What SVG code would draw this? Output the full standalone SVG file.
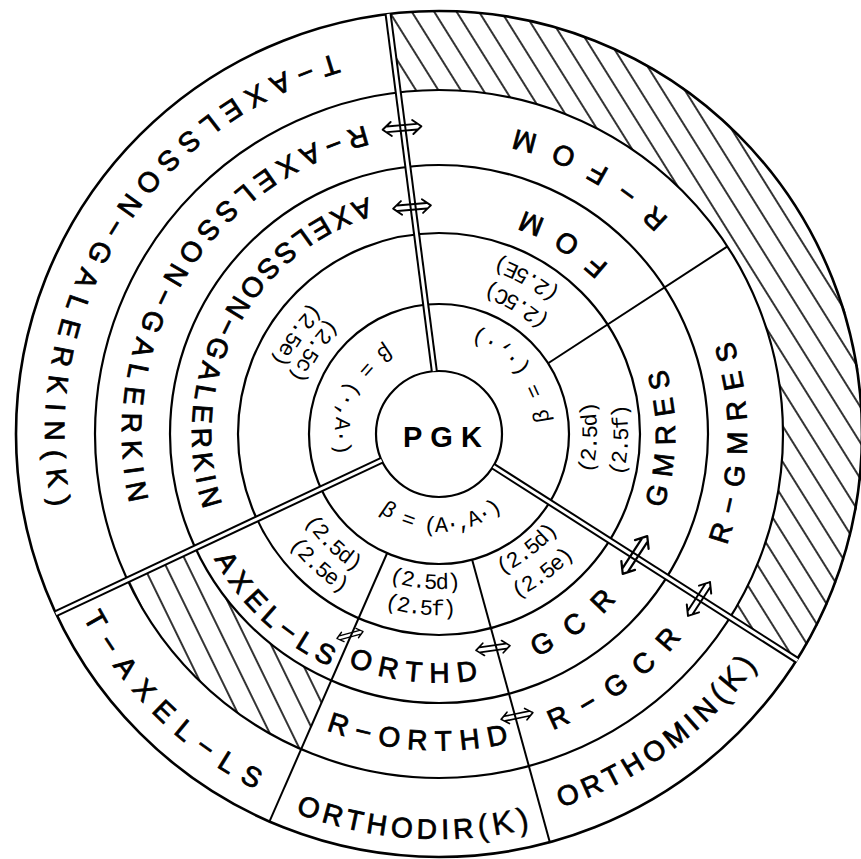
<svg xmlns="http://www.w3.org/2000/svg" width="861" height="859" viewBox="0 0 861 859">
<style>
.ring{fill:none;stroke:#000;stroke-width:2.2}
.outer{fill:none;stroke:#000;stroke-width:2.6}
.sp{fill:none;stroke:#000;stroke-width:2}
.dbl{fill:none;stroke:#000;stroke-width:7}
.dblw{fill:none;stroke:#fff;stroke-width:3}
.lbl{font-family:"Liberation Sans",Arial,sans-serif;font-size:28px;fill:#000;stroke:#000;stroke-width:0.8}
.eq{font-family:"Liberation Mono","Courier New",monospace;font-size:22px;fill:#000}
.big{font-size:32px;stroke-width:0.4}
.pgk{font-family:"Liberation Sans",Arial,sans-serif;font-size:29px;font-weight:bold;fill:#000}
</style>
<defs>
<pattern id="hatchA" patternUnits="userSpaceOnUse" width="19" height="19" patternTransform="rotate(-32)">
<line x1="1" y1="-1" x2="1" y2="20" stroke="#000" stroke-width="1.6"/>
</pattern>
<pattern id="hatchB" patternUnits="userSpaceOnUse" width="20" height="20" patternTransform="rotate(-26)">
<line x1="1" y1="-1" x2="1" y2="21" stroke="#000" stroke-width="1.6"/>
</pattern>
<g id="dar"><path d="M-18,0 L-10,-6.5 M-18,0 L-10,6.5 M18,0 L10,-6.5 M18,0 L10,6.5 M-14,-2.6 H14 M-14,2.6 H14" fill="none" stroke="#000" stroke-width="1.8" stroke-linecap="round"/></g>
<path id="t1" d="M554.2,215.5 A247,247 0 0 0 323.8,652.5"/>
<path id="t2" d="M606.8,165 A317,317 0 0 0 271.2,703"/>
<path id="t3" d="M648.1,100 A394,394 0 0 0 229.9,768"/>
<path id="t4" d="M251.3,258.4 A257,257 0 0 0 626.7,609.6"/>
<path id="t5" d="M156.4,150.9 A400,400 0 0 0 721.6,717.1"/>
<path id="t6" d="M188.9,403.3 A252,252 0 0 0 689.1,464.7"/>
<path id="t7" d="M117.9,404.6 A322.5,322.5 0 0 0 760.1,463.4"/>
<path id="t8" d="M34.9,406.5 A405,405 0 0 0 843.1,461.5"/>
<path id="t9" d="M235,573.2 A247,247 0 0 0 643,294.8"/>
<path id="t10" d="M175.1,616.7 A321,321 0 0 0 702.9,251.3"/>
<path id="t11" d="M112.6,663.4 A399,399 0 0 0 765.4,204.6"/>
<path id="t12" d="M434.3,670 A236,236 0 0 0 443.7,198"/>
<path id="t13" d="M424,746.6 A313,313 0 0 0 454,121.4"/>
<path id="t14" d="M640.4,569.9 A243,243 0 0 0 237.6,298.1"/>
<path id="t15" d="M711,598.7 A318,318 0 0 0 167,269.3"/>
<path id="p1" d="M574.2,515.8 A158,158 0 0 0 303.8,352.2"/>
<path id="p2" d="M602.6,526.6 A188,188 0 0 0 275.4,341.4"/>
<path id="p3" d="M526.7,302.5 A158,158 0 0 0 351.3,565.5"/>
<path id="p4" d="M544.8,282.3 A185,185 0 0 0 333.2,585.7"/>
<path id="p5" d="M324.3,322.4 A160,160 0 0 0 553.7,545.6"/>
<path id="p6" d="M300.4,307 A188,188 0 0 0 577.6,561"/>
<path id="p7" d="M284.7,418.9 A155,155 0 0 0 593.3,449.1"/>
<path id="p8" d="M256.1,414.1 A184,184 0 0 0 621.9,453.9"/>
<path id="p9" d="M317.1,526.5 A153,153 0 0 0 560.9,341.5"/>
<path id="p10" d="M290.3,544 A185,185 0 0 0 587.7,324"/>
<path id="p11" d="M434.9,592 A158,158 0 0 0 443.1,276"/>
<path id="p12" d="M432.4,622.9 A189,189 0 0 0 445.6,245.1"/>
<path id="b1" d="M341,436 A98,98 0 0 0 537,432"/>
<path id="b2" d="M508.9,520.3 A111,111 0 0 0 369.1,347.7"/>
<path id="b3" d="M481,338.8 A104,104 0 0 0 397,529.2"/>
</defs>
<rect width="861" height="859" fill="#fff"/>

<g id="hatching">
<path d="M398.3,92.5 L388.1,14 A423,423 0 0 1 797.5,660.5 L730.1,617.4 A344,344 0 0 0 398.3,92.5 Z" fill="url(#hatchA)"/>
<path d="M195.2,548 L127.4,580 A344,344 0 0 0 301,749.4 L331.2,680.7 A269,269 0 0 1 195.2,548 Z" fill="url(#hatchB)"/>
</g>

<g id="rings">
<circle class="ring" cx="439" cy="434" r="63"/>
<circle class="ring" cx="439" cy="434" r="130"/>
<circle class="ring" cx="439" cy="434" r="201"/>
<circle class="ring" cx="439" cy="434" r="269"/>
<circle class="ring" cx="439" cy="434" r="344"/>
<circle class="outer" cx="439" cy="434" r="423"/>
</g>

<g id="connectors">
<line class="sp" x1="548.5" y1="363" x2="727.5" y2="246.4"/>
<line class="sp" x1="387.4" y1="552.5" x2="269.3" y2="821.8"/>
<line class="sp" x1="472.2" y1="560.1" x2="549.9" y2="842.6"/>
<line class="dbl" x1="434.3" y1="371" x2="388.1" y2="14"/>
<line class="dblw" x1="434.3" y1="371" x2="388.1" y2="14"/>
<line class="dbl" x1="381.6" y1="460.3" x2="55.9" y2="613.6"/>
<line class="dblw" x1="381.6" y1="460.3" x2="55.9" y2="613.6"/>
<line class="dbl" x1="493.5" y1="466.4" x2="797.5" y2="660.5"/>
<line class="dblw" x1="493.5" y1="466.4" x2="797.5" y2="660.5"/>
<use href="#dar" transform="translate(402,128) rotate(-5) scale(1.08)"/>
<use href="#dar" transform="translate(412,207) rotate(-5) scale(1.05)"/>
<use href="#dar" transform="translate(350,635) rotate(-15) scale(0.75)"/>
<use href="#dar" transform="translate(493,648) rotate(-8) scale(0.95)"/>
<use href="#dar" transform="translate(517,716) rotate(-12) scale(0.9)"/>
<use href="#dar" transform="translate(635,555) rotate(-57) scale(1.25)"/>
<use href="#dar" transform="translate(699,599) rotate(-57) scale(1.12)"/>
</g>

<g id="node-pgk"><text class="pgk" x="403" y="447" letter-spacing="8">PGK</text></g>

<g id="node-beta">
<text class="eq" text-anchor="middle" letter-spacing="-1.2"><textPath href="#b1" startOffset="50%">β = (A·,A·)</textPath></text>
<text class="eq" text-anchor="middle" letter-spacing="0.8"><textPath href="#b2" startOffset="50%">β = (·,·)</textPath></text>
<text class="eq" text-anchor="middle" letter-spacing="-0.2"><textPath href="#b3" startOffset="50%">β = (·,A·)</textPath></text>
</g>

<g id="node-eqs" letter-spacing="-1.2">
<text class="eq" text-anchor="middle"><textPath href="#p1" startOffset="50%">(2.5C)</textPath></text>
<text class="eq" text-anchor="middle"><textPath href="#p2" startOffset="50%">(2.5E)</textPath></text>
<text class="eq" text-anchor="middle"><textPath href="#p3" startOffset="50%">(2.5c)</textPath></text>
<text class="eq" text-anchor="middle"><textPath href="#p4" startOffset="50%">(2.5e)</textPath></text>
<text class="eq" text-anchor="middle"><textPath href="#p5" startOffset="50%">(2.5d)</textPath></text>
<text class="eq" text-anchor="middle"><textPath href="#p6" startOffset="50%">(2.5e)</textPath></text>
<text class="eq" text-anchor="middle"><textPath href="#p7" startOffset="50%">(2.5d)</textPath></text>
<text class="eq" text-anchor="middle"><textPath href="#p8" startOffset="50%">(2.5f)</textPath></text>
<text class="eq" text-anchor="middle"><textPath href="#p9" startOffset="50%">(2.5d)</textPath></text>
<text class="eq" text-anchor="middle"><textPath href="#p10" startOffset="50%">(2.5e)</textPath></text>
<text class="eq" text-anchor="middle"><textPath href="#p11" startOffset="50%">(2.5d)</textPath></text>
<text class="eq" text-anchor="middle"><textPath href="#p12" startOffset="50%">(2.5f)</textPath></text>
</g>

<g id="node-axelsson">
<text class="lbl" text-anchor="middle" letter-spacing="5.2"><textPath href="#t1" startOffset="390.6">AXELSSON−GALERKIN</textPath></text>
<text class="lbl" text-anchor="middle" letter-spacing="8.2"><textPath href="#t2" startOffset="502">R−AXELSSON−GALERKIN</textPath></text>
<text class="lbl" text-anchor="middle" letter-spacing="9.9"><textPath href="#t3" startOffset="623.9">T−AXELSSON−GALERKIN(K)</textPath></text>
</g>
<g id="node-axel-ls">
<text class="lbl" text-anchor="middle" letter-spacing="6.35"><textPath href="#t4" startOffset="406.9">AXEL−LS</textPath></text>
<text class="lbl" text-anchor="middle" letter-spacing="11.5"><textPath href="#t5" startOffset="634.1">T−AXEL−LS</textPath></text>
</g>
<g id="node-orthd">
<text class="lbl" text-anchor="middle" letter-spacing="8.3"><textPath href="#t6" startOffset="400">ORTHD</textPath></text>
<text class="lbl" text-anchor="middle" letter-spacing="8.35"><textPath href="#t7" startOffset="510.8">R−ORTHD</textPath></text>
<text class="lbl" text-anchor="middle" letter-spacing="4.7"><textPath href="#t8" startOffset="638.6">ORTHODIR<tspan class="big">(K)</tspan></textPath></text>
</g>
<g id="node-gcr">
<text class="lbl" text-anchor="middle" letter-spacing="18.2"><textPath href="#t9" startOffset="397.1">GCR</textPath></text>
<text class="lbl" text-anchor="middle" letter-spacing="15.4"><textPath href="#t10" startOffset="511.9">R−GCR</textPath></text>
<text class="lbl" text-anchor="middle" letter-spacing="5.2"><textPath href="#t11" startOffset="629.3">ORTHOMIN<tspan class="big">(K)</tspan></textPath></text>
</g>
<g id="node-gmres">
<text class="lbl" text-anchor="middle" letter-spacing="9.75"><textPath href="#t12" startOffset="375.6">GMRES</textPath></text>
<text class="lbl" text-anchor="middle" letter-spacing="11.6"><textPath href="#t13" startOffset="497.5">R−GMRES</textPath></text>
</g>
<g id="node-fom">
<text class="lbl" text-anchor="middle" letter-spacing="19.7"><textPath href="#t14" startOffset="391.6">FOM</textPath></text>
<text class="lbl" text-anchor="middle" letter-spacing="20.2"><textPath href="#t15" startOffset="509.6">R−FOM</textPath></text>
</g>
</svg>
